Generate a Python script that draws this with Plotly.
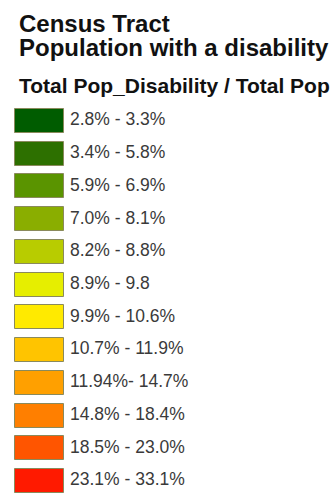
import plotly.graph_objects as go

# ---- data ----
title_lines = ["Census Tract", "Population with a disability"]
subtitle = "Total Pop_Disability / Total Pop"
class_labels = [
    "2.8% - 3.3%",
    "3.4% - 5.8%",
    "5.9% - 6.9%",
    "7.0% - 8.1%",
    "8.2% - 8.8%",
    "8.9% - 9.8",
    "9.9% - 10.6%",
    "10.7% - 11.9%",
    "11.94%- 14.7%",
    "14.8% - 18.4%",
    "18.5% - 23.0%",
    "23.1% - 33.1%",
]
class_colors = [
    "#005c00", "#2d7000", "#5a9400", "#8aae00", "#b8cc00", "#e6ee00",
    "#ffea00", "#ffc400", "#ffa000", "#ff7f00", "#ff5500", "#ff1a00",
]

# ---- layout constants (pixels) ----
W, H = 335, 496
sw_left, sw_width = 15, 49
label_x = 70
row0_px, row_step_px = 121, 32.73
n = len(class_labels)
units = H / row_step_px
top = -row0_px / row_step_px
yrange = [top + units, top]
bar_w = 24 / row_step_px

font_fam = "Liberation Sans, Arial, sans-serif"

fig = go.Figure()
fig.add_trace(go.Bar(
    orientation="h",
    y=class_labels,
    x=[sw_width] * n,
    base=sw_left,
    width=bar_w,
    marker=dict(color=class_colors, line=dict(color="#8a8a5c", width=1)),
    hoverinfo="skip",
    showlegend=False,
))
fig.add_trace(go.Scatter(
    y=class_labels,
    x=[label_x] * n,
    mode="text",
    text=class_labels,
    textposition="middle right",
    textfont=dict(family=font_fam, size=17.5, color="#3a3a3a"),
    hoverinfo="skip",
    showlegend=False,
))

annotations = []
for i, (txt, yc, sz) in enumerate([
    (title_lines[0], 23.7, 24),
    (title_lines[1], 47.7, 24),
    (subtitle, 86, 21),
]):
    annotations.append(dict(
        text="<b>%s</b>" % txt, x=17 / W, y=1 - yc / H,
        xref="paper", yref="paper", xanchor="left", yanchor="middle",
        showarrow=False, font=dict(family=font_fam, size=sz, color="#111111"),
    ))

fig.update_layout(
    width=W, height=H,
    margin=dict(l=0, r=0, t=0, b=0),
    paper_bgcolor="white", plot_bgcolor="white",
    xaxis=dict(range=[0, W], visible=False, fixedrange=True),
    yaxis=dict(type="category", categoryorder="array", categoryarray=class_labels,
               range=yrange, visible=False, fixedrange=True),
    annotations=annotations,
    bargap=0,
)
fig.write_html(
    "out.html",
    config={"displayModeBar": False},
    post_script="document.body.style.margin='0';document.body.style.overflow='hidden';",
)
